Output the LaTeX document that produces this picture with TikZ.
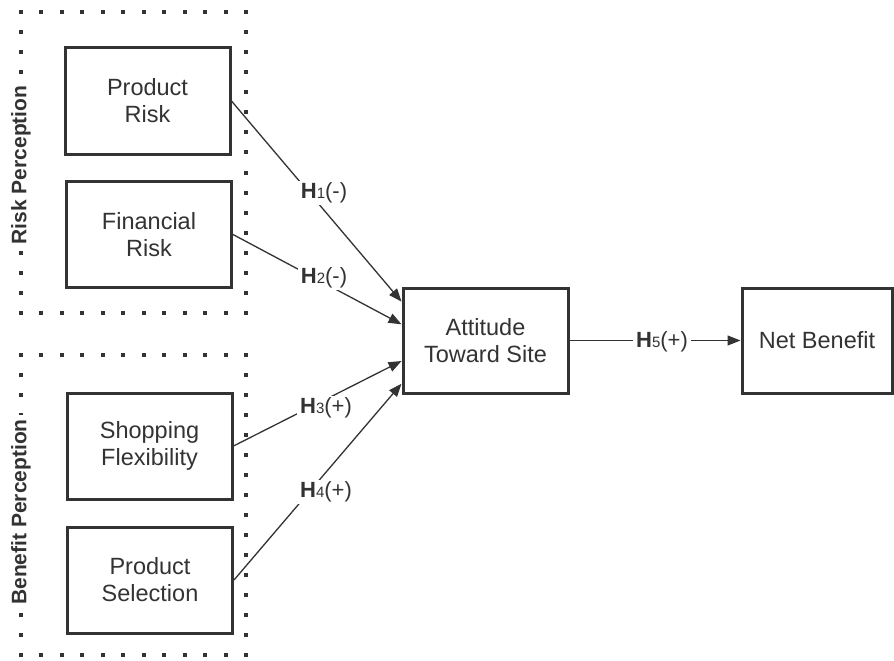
\documentclass[tikz,border=0pt]{standalone}
\usepackage{fontspec}
\setmainfont{Liberation Sans}
\usetikzlibrary{arrows.meta,calc}
\definecolor{ink}{HTML}{333333}
\newcommand\hyplab[2]{{\bfseries H}{\fontsize{15}{15}\selectfont #1}(#2)}
\begin{document}
\begin{tikzpicture}[x=1pt,y=-1pt,
  box/.style={draw=ink, line width=3pt, fill=white, align=center, text=ink,
    font=\fontsize{23.5}{27}\selectfont, inner sep=0pt,
    minimum width=165pt, minimum height=106pt},
  link/.style={draw=ink, line width=1.3pt, -{Triangle[length=13pt,width=10pt]}},
  hlabel/.style={fill=white, text=ink, font=\fontsize{22}{22}\selectfont, inner xsep=3pt, inner ysep=2pt},
  grouplabel/.style={rotate=90, fill=white, text=ink, font=\bfseries\fontsize{21}{21}\selectfont, inner xsep=4pt, inner ysep=1pt},
  dot/.style={fill=ink}]
\useasboundingbox (0,0) rectangle (894,661);
\fill[white] (0,0) rectangle (894,661);
% dotted frames
\foreach \yt/\yb in {12/313, 355/655}{
  \foreach \i in {0,...,11}{
    \fill[dot] ({21+225*\i/11-2},{\yt-2}) rectangle ++(4,4);
    \fill[dot] ({21+225*\i/11-2},{\yb-2}) rectangle ++(4,4);
  }
  \foreach \j in {1,...,14}{
    \fill[dot] (19,{\yt+(\yb-\yt)*\j/15-2}) rectangle ++(4,4);
    \fill[dot] (244,{\yt+(\yb-\yt)*\j/15-2}) rectangle ++(4,4);
  }
}
\node[grouplabel] (rp) at (21,165) {Risk Perception};
\node[grouplabel] (bp) at (21,512) {Benefit Perception};
% boxes
\node[box] (pr) at (147.5,101) {Product\\Risk};
\node[box] (fr) at (149,234.5) {Financial\\Risk};
\node[box] (sf) at (149.5,446) {Shopping\\Flexibility};
\node[box] (ps) at (150,580) {Product\\Selection};
\node[box, minimum height=105pt] (att) at (485.5,340.5) {Attitude\\Toward Site};
\node[box, minimum width=150pt, minimum height=105pt] (nb) at (817,340.5) {Net Benefit};
% connectors
\draw[link] (pr.east) -- ($(att.north west)!0.14!(att.south west)$);
\draw[link] (fr.east) -- ($(att.north west)!0.35!(att.south west)$);
\draw[link] (sf.east) -- ($(att.north west)!0.69!(att.south west)$);
\draw[link] (ps.east) -- ($(att.north west)!0.90!(att.south west)$);
\draw[link] (att.east) -- (nb.west);
% labels
\node[hlabel] (h1) at (324,193) {\hyplab{1}{-}};
\node[hlabel] (h2) at (324,278) {\hyplab{2}{-}};
\node[hlabel] (h3) at (326,408) {\hyplab{3}{+}};
\node[hlabel] (h4) at (326,492) {\hyplab{4}{+}};
\node[hlabel] (h5) at (662,342) {\hyplab{5}{+}};
\end{tikzpicture}
\end{document}
